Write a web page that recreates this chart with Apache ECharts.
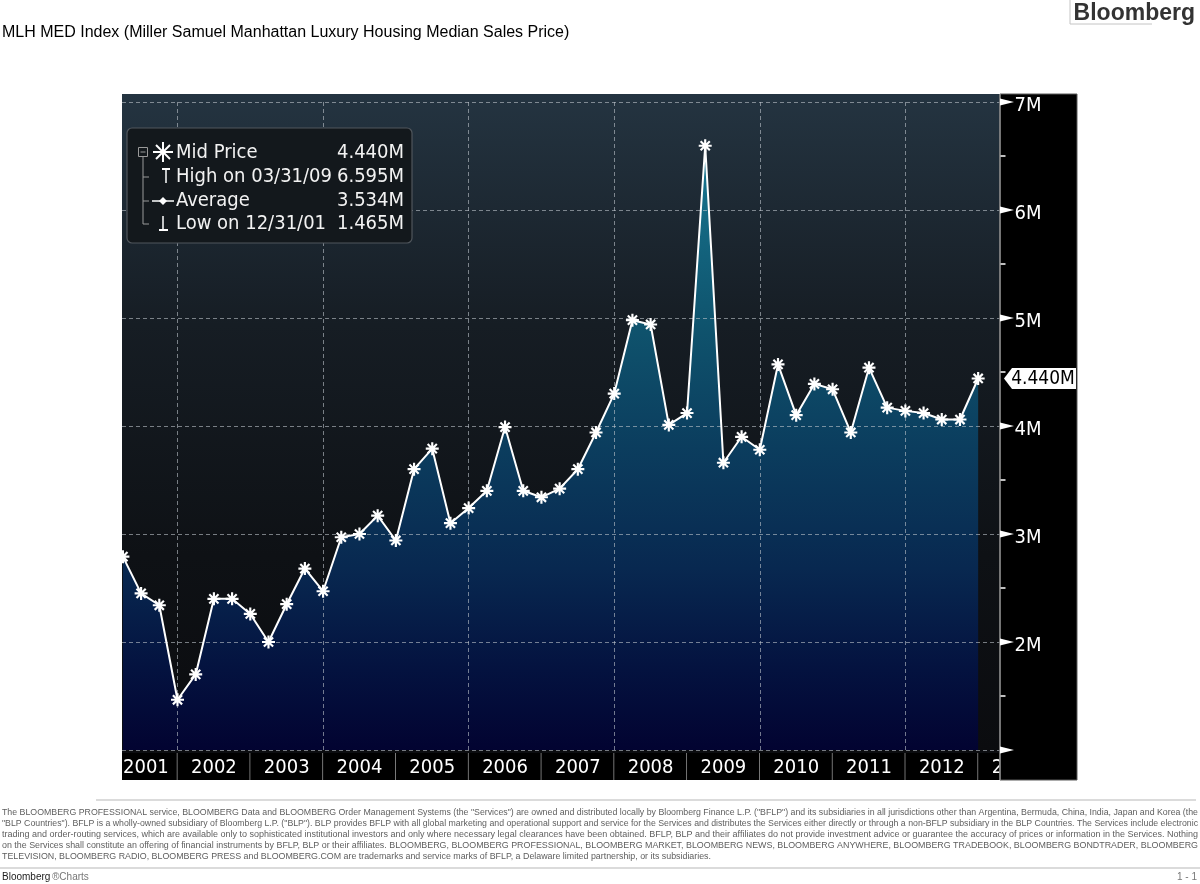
<!DOCTYPE html>
<html><head><meta charset="utf-8">
<script src="https://cdn.jsdelivr.net/npm/echarts@6/dist/echarts.min.js"></script>
<style>html,body{margin:0;padding:0;background:#fff}#c{width:1200px;height:884px}</style>
</head><body><div id="c"></div>
<script>
// ---------- data ----------
const years = ['2001','2002','2003','2004','2005','2006','2007','2008','2009','2010','2011','2012','2013'];
// quarter-end observations, 03/31/01 ... 12/31/12 (values in $M)
const quarterEnds = years.slice(0, 12).flatMap(y => ['03/31/', '06/30/', '09/30/', '12/31/'].map(d => d + y.slice(2)));
const medianPrice = [
  2.79, 2.45, 2.34, 1.465,
  1.70, 2.40, 2.40, 2.26,
  2.00, 2.35, 2.68, 2.47,
  2.97, 3.00, 3.17, 2.94,
  3.60, 3.79, 3.10, 3.24,
  3.40, 3.99, 3.40, 3.34,
  3.42, 3.60, 3.94, 4.30,
  4.98, 4.94, 4.01, 4.12,
  6.595, 3.66, 3.90, 3.78,
  4.57, 4.10, 4.39, 4.34,
  3.94, 4.54, 4.17, 4.14,
  4.12, 4.06, 4.06, 4.44
];
const yTicks = [1, 2, 3, 4, 5, 6, 7];
const yTickLabels = ['', '2M', '3M', '4M', '5M', '6M', '7M'];
const yMinorTicks = [1.5, 2.5, 3.5, 4.5, 5.5, 6.5];
const xGridQuarters = [3, 11, 19, 27, 35, 43];
const legendLabels = ['Mid Price', 'High on 03/31/09', 'Average', 'Low on 12/31/01'];
const legendValues = ['4.440M', '6.595M', '3.534M', '1.465M'];
const titleText = 'MLH MED Index (Miller Samuel Manhattan Luxury Housing Median Sales Price)';
const disclaimer = [
  'The BLOOMBERG PROFESSIONAL service, BLOOMBERG Data and BLOOMBERG Order Management Systems (the "Services") are owned and distributed locally by Bloomberg Finance L.P. ("BFLP") and its subsidiaries in all jurisdictions other than Argentina, Bermuda, China, India, Japan and Korea (the',
  '"BLP Countries"). BFLP is a wholly-owned subsidiary of Bloomberg L.P. ("BLP"). BLP provides BFLP with all global marketing and operational support and service for the Services and distributes the Services either directly or through a non-BFLP subsidiary in the BLP Countries. The Services include electronic',
  'trading and order-routing services, which are available only to sophisticated institutional investors and only where necessary legal clearances have been obtained. BFLP, BLP and their affiliates do not provide investment advice or guarantee the accuracy of prices or information in the Services. Nothing',
  'on the Services shall constitute an offering of financial instruments by BFLP, BLP or their affiliates. BLOOMBERG, BLOOMBERG PROFESSIONAL, BLOOMBERG MARKET, BLOOMBERG NEWS, BLOOMBERG ANYWHERE, BLOOMBERG TRADEBOOK, BLOOMBERG BONDTRADER, BLOOMBERG',
  'TELEVISION, BLOOMBERG RADIO, BLOOMBERG PRESS and BLOOMBERG.COM are trademarks and service marks of BFLP, a Delaware limited partnership, or its subsidiaries.'
];

// ---------- chart ----------
const chart = echarts.init(document.getElementById('c'), null, {renderer: 'canvas'});
const FONT = '"DejaVu Sans Condensed", "DejaVu Sans", sans-serif';
const XMIN = -0.05, XMAX = 48.2;
const pts = medianPrice.map((v, i) => [i, v]);
const STAR = 'M-6,-1L6,-1L6,1L-6,1Z M-1,-6L1,-6L1,6L-1,6Z M-3.54,-4.95L4.95,3.54L3.54,4.95L-4.95,-3.54Z M3.54,-4.95L4.95,-3.54L-3.54,4.95L-4.95,3.54Z';
const last = medianPrice[medianPrice.length - 1];

// measure disclaimer lines to justify to full width
const mctx = document.createElement('canvas').getContext('2d');
const DFONT = '9.5px "Liberation Sans", Arial, sans-serif';
mctx.font = DFONT;
const FULLW = 1196;
const scales = disclaimer.map(t => FULLW / mctx.measureText(t).width);
const avgScale = scales.slice(0, 4).reduce((a, b) => a + b, 0) / 4;

const graphics = [];
// plot background
graphics.push({type: 'rect', z: -1, shape: {x: 122, y: 94, width: 878, height: 659},
  style: {fill: new echarts.graphic.LinearGradient(0, 0, 0, 1, [
    {offset: 0, color: '#243441'}, {offset: 0.35, color: '#161d24'},
    {offset: 0.7, color: '#0e1115'}, {offset: 1, color: '#0b0c0f'}])}});
// right black panel (above year band)
graphics.push({type: 'rect', z: 20, shape: {x: 1000, y: 94, width: 77, height: 686},
  style: {fill: '#000', stroke: '#5a5a5a', lineWidth: 1}});
graphics.push({type: 'line', z: 25, shape: {x1: 1000, y1: 94, x2: 1000, y2: 780},
  style: {stroke: '#8c8c8c', lineWidth: 1.5}});
// title & logo
graphics.push({type: 'text', x: 2, y: 33, style: {text: titleText, fill: '#000',
  font: '16px "Liberation Sans", Arial, sans-serif', verticalAlign: 'middle'}});
graphics.push({type: 'text', x: 1195, y: 14, style: {text: 'Bloomberg', fill: '#333',
  font: 'bold 23px "Liberation Sans", Arial, sans-serif', align: 'right', verticalAlign: 'middle'}});
graphics.push({type: 'polyline', shape: {points: [[1070, 0], [1070, 24], [1152, 24]]},
  style: {stroke: '#c4c4c4', lineWidth: 1, fill: null}});
// legend box
graphics.push({type: 'rect', z: 30, shape: {x: 127, y: 128, width: 285, height: 115, r: 5},
  style: {fill: '#13181c', stroke: '#50565c', lineWidth: 1.2}});
const rowY = [153, 177, 201, 224];
legendLabels.forEach((t, i) => {
  graphics.push({type: 'text', z: 31, x: 176, y: rowY[i], style: {text: t, fill: '#f2f2f2',
    font: '20px ' + FONT, verticalAlign: 'middle'}});
  graphics.push({type: 'text', z: 31, x: 404, y: rowY[i], style: {text: legendValues[i], fill: '#f2f2f2',
    font: '20px ' + FONT, align: 'right', verticalAlign: 'middle'}});
});
// legend tree + icons
const tree = '#9a9a9a';
const ln = (x1, y1, x2, y2, c, w) => graphics.push({type: 'line', z: 31, shape: {x1, y1, x2, y2}, style: {stroke: c, lineWidth: w}});
graphics.push({type: 'rect', z: 31, shape: {x: 138.5, y: 147.5, width: 9, height: 9}, style: {fill: null, stroke: tree, lineWidth: 1}});
ln(140.5, 152, 145.5, 152, tree, 1);
ln(143, 157, 143, rowY[3], tree, 1);
[1, 2, 3].forEach(i => ln(143, rowY[i], 149, rowY[i], tree, 1));
// star icon (mid price)
ln(153, 152, 173, 152, '#fff', 2);
ln(163, 142, 163, 162, '#fff', 2);
ln(156, 145, 170, 159, '#fff', 2);
ln(170, 145, 156, 159, '#fff', 2);
// high icon
ln(162, 169, 170, 169, '#fff', 2);
ln(166, 169, 166, 183, '#fff', 1.5);
// average icon
ln(152, rowY[2], 174, rowY[2], '#fff', 1.5);
graphics.push({type: 'polygon', z: 31, shape: {points: [[163, rowY[2] - 4], [167, rowY[2]], [163, rowY[2] + 4], [159, rowY[2]]]}, style: {fill: '#fff'}});
// low icon
ln(163, 216, 163, 230, '#fff', 1.5);
ln(159, 230, 168, 230, '#fff', 2);
// disclaimer
graphics.push({type: 'line', shape: {x1: 96, y1: 800, x2: 1196, y2: 800}, style: {stroke: '#cfcfcf', lineWidth: 1.5}});
disclaimer.forEach((t, i) => {
  graphics.push({type: 'text', x: 2, y: 812 + i * 11, scaleX: i < 4 ? scales[i] : avgScale,
    style: {text: t, fill: '#5e5e5e', font: DFONT, verticalAlign: 'middle'}});
});
graphics.push({type: 'line', shape: {x1: 0, y1: 868, x2: 1200, y2: 868}, style: {stroke: '#cfcfcf', lineWidth: 1.5}});
graphics.push({type: 'text', x: 2, y: 877, style: {text: 'Bloomberg', fill: '#222', font: '10px "Liberation Sans", Arial, sans-serif', verticalAlign: 'middle'}});
graphics.push({type: 'text', x: 52, y: 877, style: {text: '®Charts', fill: '#777', font: '10px "Liberation Sans", Arial, sans-serif', verticalAlign: 'middle'}});
graphics.push({type: 'text', x: 1197, y: 877, style: {text: '1 - 1', fill: '#777', font: '10px "Liberation Sans", Arial, sans-serif', align: 'right', verticalAlign: 'middle'}});

const option = {
  animation: false,
  backgroundColor: '#fff',
  grid: {left: 122, right: 200, top: 102, bottom: 134, containLabel: false},
  xAxis: {type: 'value', min: XMIN, max: XMAX, show: false},
  yAxis: {
    type: 'value', position: 'right', min: 1, max: 7, interval: 1, z: 30,
    axisLine: {show: false}, axisTick: {show: false}, splitLine: {show: false},
    axisLabel: {show: false}
  },
  graphic: {elements: graphics},
  series: [
    {
      name: 'area', type: 'line', data: pts, symbol: 'none', z: 2, silent: true,
      lineStyle: {width: 0, opacity: 0},
      areaStyle: {origin: 'start', opacity: 1, color: new echarts.graphic.LinearGradient(0, 0, 0, 1, [
        {offset: 0, color: '#177791'}, {offset: 0.3, color: '#0f536d'}, {offset: 0.5, color: '#0b3d5e'},
        {offset: 0.7, color: '#082850'}, {offset: 0.86, color: '#041340'}, {offset: 1, color: '#020331'}])},
      markLine: {
        silent: true, symbol: ['none', 'none'], z: 3, animation: false,
        label: {show: false},
        lineStyle: {color: 'rgba(190,196,204,0.6)', width: 1, type: [4, 3]},
        data: [...xGridQuarters.map(q => ({xAxis: q})), ...yTicks.map(v => ({yAxis: v}))]
      }
    },
    {
      name: 'Mid Price', type: 'line', data: pts, z: 6,
      symbol: 'path://' + STAR, symbolSize: 13,
      lineStyle: {color: '#fff', width: 2},
      itemStyle: {color: '#fff', opacity: 1}
    },
    {
      name: 'ticks', type: 'scatter', z: 31, clip: false, silent: true,
      data: yTicks.map(v => [XMAX, v]),
      symbol: 'triangle', symbolSize: [7, 14], symbolRotate: -90, symbolOffset: [7, 0],
      itemStyle: {color: '#fff', opacity: 1}
    },
    {
      name: 'tickLabels', type: 'scatter', z: 31, clip: false, silent: true,
      data: yTicks.map(v => [XMAX, v]),
      symbol: 'rect', symbolSize: 1,
      itemStyle: {color: 'rgba(0,0,0,0)', opacity: 1},
      label: {show: true, position: [15, 4], align: 'left', verticalAlign: 'middle',
        color: '#fff', opacity: 1, fontSize: 20, fontFamily: 'DejaVu Sans Condensed',
        formatter: p => yTickLabels[p.dataIndex]}
    },
    {
      name: 'minorTicks', type: 'scatter', z: 31, clip: false, silent: true,
      data: yMinorTicks.map(v => [XMAX, v]),
      symbol: 'rect', symbolSize: [5, 1.5], symbolOffset: [3, 0],
      itemStyle: {color: '#fff', opacity: 1}
    },
    {
      name: 'lastTag', type: 'scatter', z: 32, clip: false, silent: true,
      data: [[XMAX, last]],
      symbol: 'path://M0,10.5L8,0L72,0L72,21L8,21Z', symbolSize: [72, 21], symbolOffset: [40, 0],
      itemStyle: {color: '#fff', opacity: 1},
      label: {show: true, position: 'inside', offset: [3, 1], color: '#000', fontSize: 19, fontFamily: 'DejaVu Sans Condensed',
        formatter: p => p.value[1].toFixed(3) + 'M'}
    },
    {
      name: 'years', type: 'custom', z: 3, clip: false, silent: true,
      data: years.map((y, k) => [4 * k - 1, 4 * k + 3, 4]),
      encode: {x: [0, 1], y: 2},
      renderItem: (params, api) => {
        const cs = params.coordSys;
        const a = api.coord([api.value(0), 4])[0];
        const b = api.coord([api.value(1), 4])[0];
        const top = cs.y + cs.height + 3, h = 27;
        const l = Math.max(a, cs.x);
        const clipped = a < cs.x;
        return {type: 'group', children: [
          {type: 'rect', shape: {x: l, y: top, width: b - l, height: h}, style: {fill: '#000'}},
          {type: 'line', shape: {x1: b, y1: top, x2: b, y2: top + h}, style: {stroke: '#9a9a9a', lineWidth: 1.5}},
          {type: 'text', x: clipped ? cs.x + 1 : (a + b) / 2, y: top + h / 2 + 1,
            style: {text: years[params.dataIndex], fill: '#fff', font: '20px ' + FONT,
              align: clipped ? 'left' : 'center', verticalAlign: 'middle'}}
        ]};
      }
    }
  ]
};
chart.setOption(option);
</script>
</body></html>
